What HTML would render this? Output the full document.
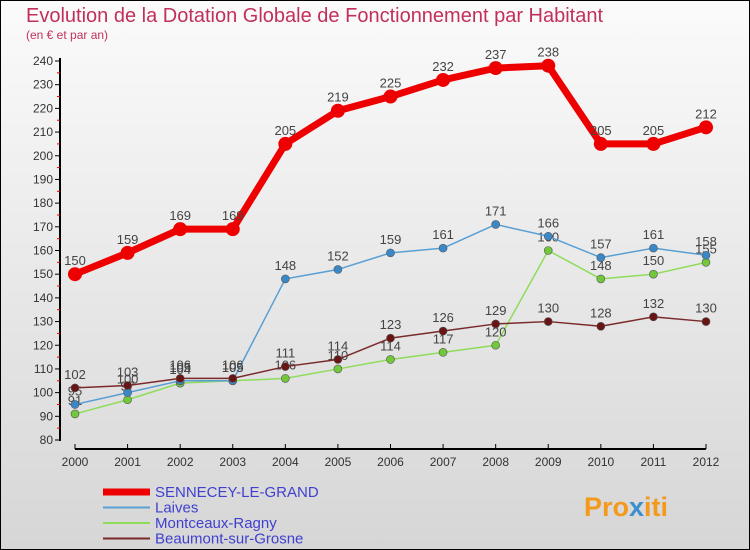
<!DOCTYPE html>
<html><head><meta charset="utf-8"><style>
body{margin:0;width:750px;height:550px;overflow:hidden;font-family:"Liberation Sans",sans-serif}
svg{display:block}
</style></head><body>
<svg id="chart" width="750" height="550" xmlns="http://www.w3.org/2000/svg">
<defs><linearGradient id="bg" x1="0" y1="0" x2="0" y2="1"><stop offset="0" stop-color="#fbfbfb"/><stop offset="1" stop-color="#d6d6d6"/></linearGradient></defs>
<rect x="0.5" y="0.5" width="749" height="549" fill="url(#bg)" stroke="#000"/>
<text x="26" y="22" font-size="20" fill="#c2305a">Evolution de la Dotation Globale de Fonctionnement par Habitant</text>
<text x="26" y="39" font-size="12" fill="#c2305a">(en € et par an)</text>
<g id="axes"></g>
<g id="series"></g>
<g id="legend"></g>
<text x="584" y="516" font-size="27" font-weight="bold" fill="#f39a1d">Pro<tspan fill="#3a8fd0">x</tspan>iti</text>
</svg>
<script>
const years=[2000,2001,2002,2003,2004,2005,2006,2007,2008,2009,2010,2011,2012];
const yTicks=[80,90,100,110,120,130,140,150,160,170,180,190,200,210,220,230,240];
const sennecey=[150,159,169,169,205,219,225,232,237,238,205,205,212];
const laives=[95,100,105,105,148,152,159,161,171,166,157,161,158];
const montceaux=[91,97,104,105,106,110,114,117,120,160,148,150,155];
const beaumont=[102,103,106,106,111,114,123,126,129,130,128,132,130];
const seriesNames=["SENNECEY-LE-GRAND","Laives","Montceaux-Ragny","Beaumont-sur-Grosne"];
const NS="http://www.w3.org/2000/svg";
const X=i=>75+i*(706-75)/(years.length-1);
const Y=v=>440-(v-80)*(440-61)/160;
function mk(t,a,p){const e=document.createElementNS(NS,t);for(const k in a)e.setAttribute(k,a[k]);(p||document.getElementById('chart')).appendChild(e);return e;}
const ax=document.getElementById('axes');
let l=mk('line',{x1:60,y1:58,x2:60,y2:441,stroke:'#000','stroke-width':2},ax);


l=mk('line',{x1:75,y1:449,x2:706,y2:449,stroke:'#000','stroke-width':2},ax);


yTicks.forEach((v,i)=>{
  mk('line',{x1:55,y1:Y(v),x2:60,y2:Y(v),stroke:'#000'},ax);
  if(i<yTicks.length-1)mk('line',{x1:57,y1:Y(v+5),x2:60,y2:Y(v+5),stroke:'#e00'},ax);
  const t=mk('text',{x:53,y:Y(v)+4,'font-size':12,'text-anchor':'end',fill:'#333'},ax);
  
  
  t.textContent=v;
});
years.forEach((y,i)=>{
  mk('line',{x1:X(i),y1:444,x2:X(i),y2:449,stroke:'#000'},ax);
  const t=mk('text',{x:X(i),y:466,'font-size':12,'text-anchor':'middle',fill:'#333'},ax);
  
  
  t.textContent=y;
});
const defs=[[montceaux,'#8fdc5a','#70c83a',1.5,4,'montceaux'],[laives,'#5a9fd4','#3a88c8',1.5,4,'laives'],[beaumont,'#7a2a2a','#6a1515',1.5,4,'beaumont'],[sennecey,'#ee0000','#ee0000',7,7,'sennecey']];
const sg=document.getElementById('series');
defs.forEach(([d,c,fc,w,r,n])=>{
  const p=mk('polyline',{points:d.map((v,i)=>X(i)+','+Y(v)).join(' '),fill:'none',stroke:c,'stroke-width':w,'stroke-linejoin':'round'},sg);
  
  
  d.forEach((v,i)=>{
    const c2=mk('circle',{cx:X(i),cy:Y(v),r:r,fill:fc,stroke:'#555','stroke-width':n==='sennecey'?0:0.6},sg);
    
    
    const t=mk('text',{x:X(i),y:Y(v)-9,'font-size':13,'text-anchor':'middle',fill:'#444'},sg);
    
    
    t.textContent=v;
  });
});
const lg=document.getElementById('legend');
const lc=[['#ee0000',7],['#5a9fd4',2],['#8fdc5a',2],['#7a2a2a',2]];
seriesNames.forEach((s,i)=>{
  const y=492+i*15.5;
  const ln=mk('line',{x1:103,y1:y,x2:150,y2:y,stroke:lc[i][0],'stroke-width':lc[i][1]},lg);
  
  
  const t=mk('text',{x:155,y:y+5,'font-size':15,fill:'#4040d0'},lg);
  
  
  t.textContent=s;
});
</script>
</body></html>
